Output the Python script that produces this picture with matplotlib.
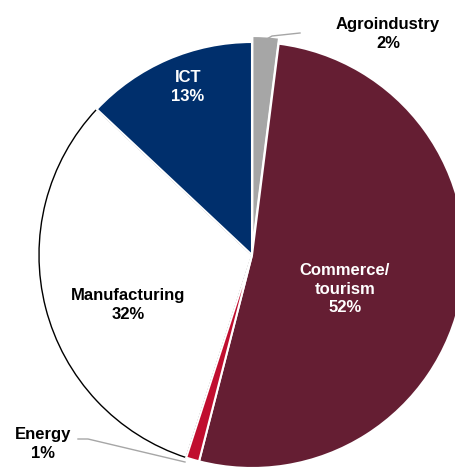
import numpy as np
import matplotlib.pyplot as plt

plt.rcParams['font.family'] = ['Liberation Sans', 'DejaVu Sans']

sectors = ['Agroindustry', 'Commerce/\ntourism', 'Energy', 'Manufacturing', 'ICT']
shares = [2, 52, 1, 32, 13]
colors = ['#a6a6a6', '#651e33', '#c00e2f', '#ffffff', '#002f6c']
explode = [6, 0, 0, 0, 0]

W, H = 455, 467
cx, cy = 252, 255   # pie centre in pixels
R = 213

fig = plt.figure(figsize=(W / 100, H / 100), dpi=100)
ax = fig.add_axes([0, 0, 1, 1])

wedges, _ = ax.pie(shares, colors=colors, startangle=90, counterclock=False,
                   radius=R, explode=explode,
                   wedgeprops=dict(edgecolor='white', linewidth=1.5))
# manufacturing is white, so give it a dark outline
wedges[3].set_edgecolor('black')
wedges[3].set_linewidth(1.0)
wedges[3].set_zorder(0.5)

ax.set_xlim(-cx, W - cx)
ax.set_ylim(-(H - cy), cy)
ax.set_aspect('equal')
ax.axis('off')

def px(x, y):
    return x - cx, cy - y

lbl = dict(ha='center', va='center', fontsize=12, fontweight='bold', linespacing=1.3)

ax.text(*px(188, 87), f'ICT\n{shares[4]}%', color='white', **lbl)
ax.text(*px(128, 305), f'Manufacturing\n{shares[3]}%', color='black', **lbl)
ax.text(*px(345, 289), f'{sectors[1]}\n{shares[1]}%', color='white', **lbl)
ax.text(*px(388, 34), f'Agroindustry\n{shares[0]}%', color='black', **lbl)
ax.text(*px(43, 444), f'Energy\n{shares[2]}%', color='black', **lbl)

# leader lines for the two small slices
lx, ly = zip(px(265, 40), px(272, 36), px(300, 33))
ax.plot(lx, ly, color='#a6a6a6', lw=1)
lx, ly = zip(px(78, 439), px(88, 439), px(185, 462))
ax.plot(lx, ly, color='#a6a6a6', lw=1)

fig.savefig('out.png', dpi=100)
